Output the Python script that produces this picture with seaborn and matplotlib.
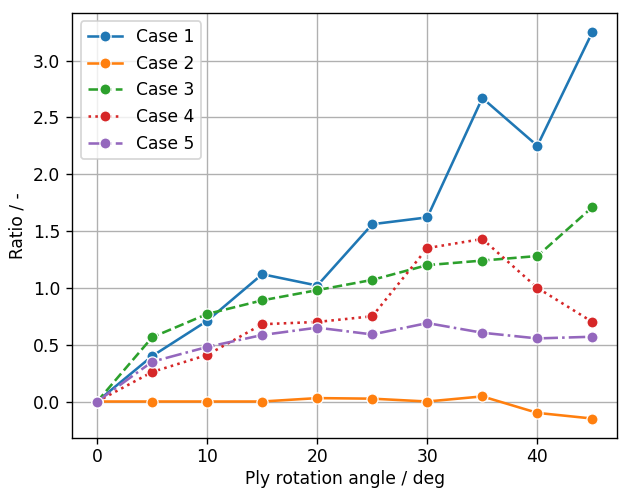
import matplotlib
matplotlib.use("Agg")
import matplotlib.pyplot as plt
import seaborn as sns
import pandas as pd

angles = [0, 5, 10, 15, 20, 25, 30, 35, 40, 45]
case1 = [0.0, 0.40, 0.71, 1.12, 1.02, 1.56, 1.62, 2.67, 2.25, 3.25]
case2 = [0.0, 0.0, 0.0, 0.0, 0.03, 0.025, 0.0, 0.045, -0.10, -0.15]
case3 = [0.0, 0.565, 0.77, 0.89, 0.98, 1.07, 1.20, 1.24, 1.28, 1.71]
case4 = [0.0, 0.26, 0.41, 0.68, 0.70, 0.75, 1.35, 1.43, 1.00, 0.70]
case5 = [0.0, 0.35, 0.48, 0.585, 0.65, 0.59, 0.69, 0.605, 0.555, 0.57]
labels = ["Case 1", "Case 2", "Case 3", "Case 4", "Case 5"]
styles = ["-", "-", "--", ":", "-."]
colors = ["C0", "C1", "C2", "C3", "C4"]

series = [case1, case2, case3, case4, case5]

DPI = 123.5
fig = plt.figure(figsize=(619 / DPI, 492 / DPI), dpi=DPI)
ax = fig.add_axes([0.117, 0.110, 0.880, 0.864])

for vals, lab, ls, col in zip(series, labels, styles, colors):
    df = pd.DataFrame({"angle": angles, "ratio": vals})
    sns.lineplot(data=df, x="angle", y="ratio", ax=ax, marker="o", linestyle=ls,
                 color=col, label=lab, markersize=6.5)

ax.grid(True)
ax.tick_params(axis="x", pad=2.5)
ax.set_xlabel("Ply rotation angle / deg", labelpad=2)
ax.set_ylabel("Ratio / -")
ax.legend(loc="upper left")
fig.savefig("out.png", dpi=DPI)
